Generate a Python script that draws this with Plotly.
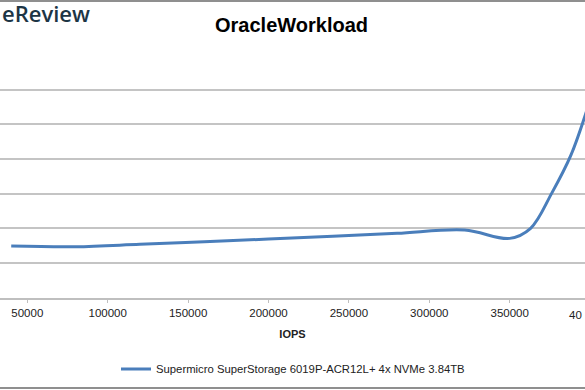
import plotly.graph_objects as go

# Data (y-axis labels are cropped, values in grid units)
iops = [40000, 80000, 120000, 160000, 200000, 240000, 280000, 322000,
        350000, 363000, 376000, 388000, 400000]
latency = [1.49, 1.47, 1.54, 1.615, 1.69, 1.77, 1.855, 1.95,
           1.71, 2.0, 3.0, 4.1, 5.7]
series_name = "Supermicro SuperStorage 6019P-ACR12L+ 4x NVMe 3.84TB"
x_ticks = [50000, 100000, 150000, 200000, 250000, 300000, 350000]
chart_title = "OracleWorkload"
x_title = "IOPS"

W, H = 585, 390
top, bottom = 54.5, 297.7


def py(px):
    """pixel row -> paper y (paper covers whole figure)"""
    return 1 - px / H


fig = go.Figure()
fig.add_trace(go.Scatter(
    x=iops, y=latency, mode="lines", name=series_name,
    line=dict(color="#4a7ebb", width=3, shape="spline", smoothing=1.0),
))

frame_axis = dict(overlaying="x", anchor="free", showline=True, linecolor="#8f8f8f", linewidth=2,
                  showgrid=False, zeroline=False, showticklabels=False, ticks="", range=[0, 1],
                  automargin=False, fixedrange=True)

fig.update_layout(
    width=W, height=H,
    margin=dict(l=0, r=0, t=0, b=0, pad=0, autoexpand=False),
    paper_bgcolor="white", plot_bgcolor="white",
    font=dict(family="Liberation Sans, Arial, sans-serif", size=11, color="#222"),
    title=dict(text=chart_title, x=291.5 / W, xanchor="center",
               y=py(25), yanchor="middle",
               font=dict(size=20, color="#000", family="Liberation Sans, Arial, sans-serif", weight="bold")),
    xaxis=dict(range=[33020, 396830], tickvals=x_ticks, ticktext=[str(v) for v in x_ticks],
               automargin=False,
               showgrid=False, zeroline=False, showline=True, linecolor="#bfbfbf", linewidth=1.5,
               ticks="outside", ticklen=4, tickcolor="#bfbfbf", tickwidth=1,
               tickfont=dict(size=11.5, color="#222"),
               title=dict(text="<b>" + x_title + "</b>", font=dict(size=11, color="#222"), standoff=12)),
    xaxis2=dict(frame_axis, position=py(1)),
    xaxis3=dict(frame_axis, position=py(388)),
    yaxis=dict(domain=[py(bottom), py(top)], range=[0, 7.01], tickvals=[1, 2, 3, 4, 5, 6, 7],
               showgrid=True, gridcolor="#c4c4c4", gridwidth=1.5,
               automargin=False,
               zeroline=False, showticklabels=False, ticks=""),
    showlegend=True,
    legend=dict(orientation="h", x=293 / W, xanchor="center",
                y=py(369), yanchor="middle",
                font=dict(size=11.3, color="#222"), bgcolor="rgba(0,0,0,0)"),
    shapes=[
        dict(type="line", xref="paper", yref="paper", x0=0, x1=1,
             y0=py(1), y1=py(1), line=dict(color="#8f8f8f", width=2), layer="above"),
        dict(type="line", xref="paper", yref="paper", x0=0, x1=1,
             y0=py(388), y1=py(388), line=dict(color="#8f8f8f", width=2), layer="above"),
    ],
    annotations=[
        dict(text="eReview", xref="paper", yref="paper", x=0, xanchor="left",
             y=py(13), yanchor="middle", showarrow=False,
             font=dict(family="Open Sans, sans-serif", size=22, color="#1d3545", weight=600)),
        dict(text="40", xref="paper", yref="paper", x=1, xanchor="right", xshift=-1,
             y=py(315), yanchor="middle", showarrow=False,
             font=dict(size=11.5, color="#222")),
    ],
)

fig.write_html("out.html", config={"displayModeBar": False},
               post_script="document.body.style.margin='0';document.body.style.overflow='hidden';")
